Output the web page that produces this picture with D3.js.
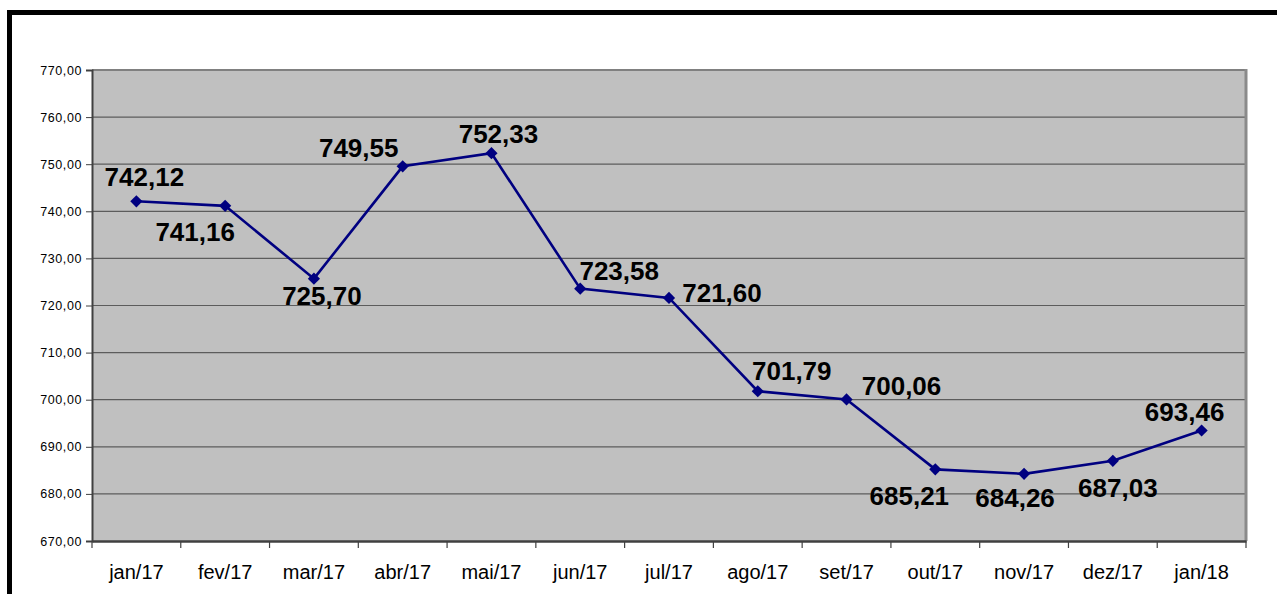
<!DOCTYPE html>
<html>
<head>
<meta charset="utf-8">
<script src="https://cdn.jsdelivr.net/npm/d3@7"></script>
<style>
  html, body { margin: 0; padding: 0; background: #fff; }
  svg { display: block; }
</style>
</head>
<body>
<svg id="chart" width="1277" height="594"></svg>
<script>
const categories = ["jan/17","fev/17","mar/17","abr/17","mai/17","jun/17","jul/17","ago/17","set/17","out/17","nov/17","dez/17","jan/18"];
const values = [742.12, 741.16, 725.70, 749.55, 752.33, 723.58, 721.60, 701.79, 700.06, 685.21, 684.26, 687.03, 693.46];
const yTicks = [670, 680, 690, 700, 710, 720, 730, 740, 750, 760, 770];
const yDomain = [670, 770];

// label placement (styling only): offsets from point in px
const labelOffsets = [[8,-15],[-30,35],[8,26],[-44,-9],[7,-10],[39,-9],[53,4],[34,-11],[55,-4],[-26,36],[-9,33],[5,36],[-17,-10]];

const fmt = v => v.toFixed(2).replace(".", ",");

const svg = d3.select("#chart");
const L = 92, R = 1246, T = 70, B = 541;

const x = d3.scaleBand().domain(categories).range([L, R]).paddingInner(0).paddingOuter(0);
const y = d3.scaleLinear().domain(yDomain).range([B, T]);

// outer black frame (top and left)
svg.append("rect").attr("x", 7).attr("y", 10).attr("width", 1277 - 7).attr("height", 5).attr("fill", "#000");
svg.append("rect").attr("x", 7).attr("y", 10).attr("width", 5).attr("height", 594 - 10).attr("fill", "#000");

// plot area
svg.append("rect").attr("x", L).attr("y", T).attr("width", R - L).attr("height", B - T)
  .attr("fill", "#c0c0c0");

// gridlines
svg.append("g").selectAll("line").data(yTicks.filter(t => t !== yDomain[0])).join("line")
  .attr("x1", L).attr("x2", R)
  .attr("y1", d => y(d)).attr("y2", d => y(d))
  .attr("stroke", "#5c5c5c").attr("stroke-width", 1.2);

// plot border
svg.append("line").attr("x1", L).attr("x2", R).attr("y1", T).attr("y2", T).attr("stroke", "#808080").attr("stroke-width", 2);
svg.append("line").attr("x1", R).attr("x2", R).attr("y1", T - 1).attr("y2", B).attr("stroke", "#8a8a8a").attr("stroke-width", 3);

// y axis
const yAxis = d3.axisLeft(y).tickValues(yTicks).tickSize(6).tickPadding(4).tickFormat(fmt);
const gy = svg.append("g").attr("transform", `translate(${L},0)`).call(yAxis);
gy.select(".domain").attr("stroke", "#404040").attr("stroke-width", 2);
gy.selectAll(".tick line").attr("stroke", "#404040").attr("stroke-width", 1);
gy.selectAll(".tick text").attr("font-family", "Liberation Sans, Arial, sans-serif").attr("font-size", "12.5px")
  .attr("letter-spacing", "0.6px").attr("fill", "#000");

// x axis
const xAxis = d3.axisBottom(x).tickSize(0).tickPadding(24).tickSizeOuter(0);
const gx = svg.append("g").attr("transform", `translate(0,${B})`).call(xAxis);
gx.select(".domain").attr("stroke", "#404040").attr("stroke-width", 2.5);
gx.selectAll(".tick text").attr("font-family", "Liberation Sans, Arial, sans-serif").attr("font-size", "20px").attr("fill", "#000");
// boundary ticks between categories
const bounds = categories.map(c => x(c)).concat([R]);
gx.append("g").selectAll("line").data(bounds).join("line")
  .attr("x1", d => d).attr("x2", d => d).attr("y1", 0).attr("y2", 7)
  .attr("stroke", "#404040").attr("stroke-width", 1.2);

// series line
const cx = c => x(c) + x.bandwidth() / 2;
const line = d3.line().x((d, i) => cx(categories[i])).y(d => y(d));
svg.append("path").datum(values).attr("d", line)
  .attr("fill", "none").attr("stroke", "#000080").attr("stroke-width", 2.6);

// markers
svg.append("g").selectAll("path").data(values).join("path")
  .attr("d", d3.symbol().type(d3.symbolDiamond2).size(95))
  .attr("transform", (d, i) => `translate(${cx(categories[i])},${y(d)})`)
  .attr("fill", "#000080");

// data labels
svg.append("g").selectAll("text").data(values).join("text")
  .attr("x", (d, i) => cx(categories[i]) + labelOffsets[i][0])
  .attr("y", (d, i) => y(d) + labelOffsets[i][1])
  .attr("text-anchor", "middle")
  .attr("font-family", "Liberation Sans, Arial, sans-serif")
  .attr("font-weight", "bold").attr("font-size", "26px").attr("fill", "#000")
  .text(d => fmt(d));
</script>
</body>
</html>
